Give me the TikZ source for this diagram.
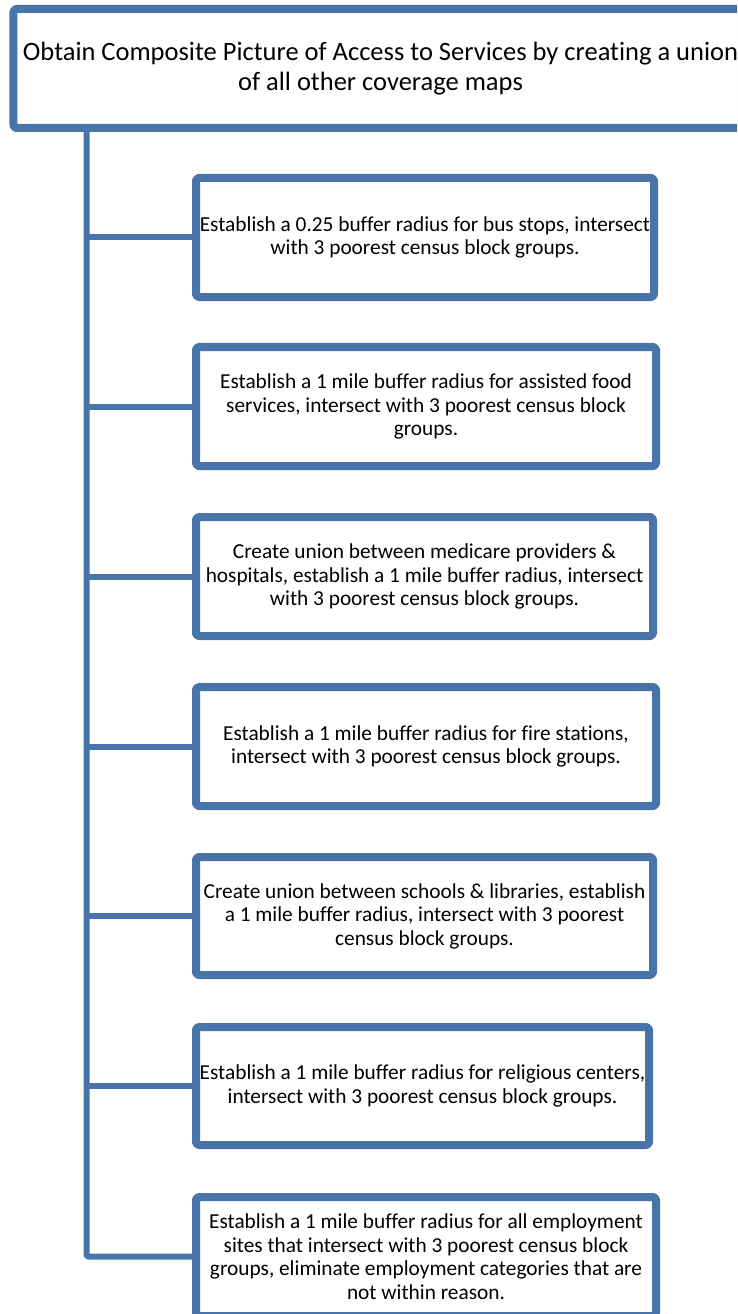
\documentclass[tikz,border=0pt]{standalone}
\usepackage{fontspec}
\setmainfont{Carlito}[Ligatures=NoCommon]
\usetikzlibrary{shadows}
\definecolor{boxblue}{RGB}{72,116,170}
\tikzset{
  stepbox/.style={draw=boxblue, line width=8bp, fill=white, rounded corners=3bp,
    align=center, inner sep=0pt, minimum height=119bp,
    drop shadow={opacity=0.3, shadow xshift=1.5bp, shadow yshift=-2.5bp},
    font=\fontsize{21.4}{23.6}\selectfont},
  headbox/.style={stepbox, font=\fontsize{26.6}{30}\selectfont},
  link/.style={draw=boxblue, line width=6bp, rounded corners=2bp},
}
\begin{document}
\begin{tikzpicture}[x=1bp,y=-1bp,line join=bevel,]
\clip (0,0) rectangle (737,1314);
\fill[white] (0,0) rectangle (737,1314);
%%
  % Node: head
  \node[headbox, minimum width=734bp] (head) at (380.5,68.5)
    {Obtain Composite Picture of Access to Services by creating a union\\of all other coverage maps};
  % Node: bus
  \node[stepbox, minimum width=458bp] (bus) at (425,237.5)
    {Establish a 0.25 buffer radius for bus stops, intersect\\with 3 poorest census block groups.};
  % Node: food
  \node[stepbox, minimum width=460bp] (food) at (426,406.5)
    {Establish a 1 mile buffer radius for assisted food\\services, intersect with 3 poorest census block\\groups.};
  % Node: medic
  \node[stepbox, minimum width=457bp] (medic) at (424.5,576.5)
    {Create union between medicare providers \&\\hospitals, establish a 1 mile buffer radius, intersect\\with 3 poorest census block groups.};
  % Node: fire
  \node[stepbox, minimum width=460bp] (fire) at (426,746.5)
    {Establish a 1 mile buffer radius for fire stations,\\intersect with 3 poorest census block groups.};
  % Node: school
  \node[stepbox, minimum width=457bp, minimum height=118bp] (school) at (424.5,916)
    {Create union between schools \& libraries, establish\\a 1 mile buffer radius, intersect with 3 poorest\\census block groups.};
  % Node: church
  \node[stepbox, minimum width=453bp, minimum height=118bp] (church) at (422.5,1086)
    {Establish a 1 mile buffer radius for religious centers,\\intersect with 3 poorest census block groups.};
  % Node: jobs
  \node[stepbox, minimum width=460bp] (jobs) at (426,1256.5)
    {Establish a 1 mile buffer radius for all employment\\sites that intersect with 3 poorest census block\\groups, eliminate employment categories that are\\not within reason.};
%
  \coordinate (trunk) at (86.5,0);
  % Edge: head -> jobs
  \draw[link] (trunk |- head.south) |- (jobs.west);
  % Edge: trunk -> bus, food, medic, fire, school, church
  \draw[link] (trunk |- bus.west) -- (bus.west);
  \draw[link] (trunk |- food.west) -- (food.west);
  \draw[link] (trunk |- medic.west) -- (medic.west);
  \draw[link] (trunk |- fire.west) -- (fire.west);
  \draw[link] (trunk |- school.west) -- (school.west);
  \draw[link] (trunk |- church.west) -- (church.west);
%
\end{tikzpicture}
\end{document}
